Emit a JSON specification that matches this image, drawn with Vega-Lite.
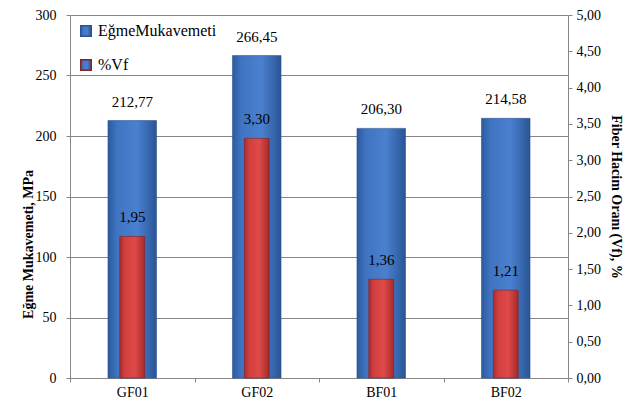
{
  "$schema": "https://vega.github.io/schema/vega-lite/v6.json",
  "width": 498,
  "height": 363,
  "autosize": "none",
  "padding": {"left": 70, "top": 15, "right": 72, "bottom": 28},
  "background": "white",
  "data": {
    "values": [
      {"Numune": "GF01", "Mukavemet": 212.77, "Vf": 1.95},
      {"Numune": "GF02", "Mukavemet": 266.45, "Vf": 3.30},
      {"Numune": "BF01", "Mukavemet": 206.30, "Vf": 1.36},
      {"Numune": "BF02", "Mukavemet": 214.58, "Vf": 1.21}
    ]
  },
  "encoding": {
    "x": {
      "field": "Numune",
      "type": "nominal",
      "sort": null,
      "scale": {"paddingInner": 0, "paddingOuter": 0},
      "axis": {"title": null, "labelAngle": 0, "labelPadding": 3, "tickBand": "extent", "grid": false}
    }
  },
  "layer": [
    {
      "encoding": {
        "y": {
          "field": "Mukavemet",
          "type": "quantitative",
          "scale": {"domain": [0, 300]},
          "axis": {
            "title": "Eğme Mukavemeti, MPa",
            "orient": "left",
            "values": [0, 50, 100, 150, 200, 250, 300],
            "format": "d",
            "grid": true,
            "labelPadding": 10,
            "titlePadding": 0,
            "titleY": 229
          }
        }
      },
      "layer": [
        {
          "mark": {
            "type": "bar",
            "width": {"band": 0.39},
            "strokeWidth": 0.6,
            "fill": {"gradient": "linear", "x1": 0, "x2": 1, "y1": 0, "y2": 0,
              "stops": [{"offset": 0, "color": "#2c5a9c"}, {"offset": 0.18, "color": "#3f74c2"}, {"offset": 0.6, "color": "#4a80cf"}, {"offset": 1, "color": "#2a5595"}]}
          },
          "encoding": {
            "stroke": {
              "datum": "EğmeMukavemeti",
              "type": "nominal",
              "scale": {"domain": ["EğmeMukavemeti", "%Vf"], "range": ["#2a5590", "#8a2020"]},
              "legend": {
                "title": null,
                "encode": {
                  "symbols": {
                    "update": {
                      "fill": {"signal": "datum.value === '%Vf' ? '#d23f3f' : '#3f74c2'"},
                      "strokeWidth": {"value": 0.6}
                    }
                  }
                }
              }
            }
          }
        },
        {
          "mark": {"type": "text", "baseline": "bottom", "dy": -11, "font": "Liberation Serif, Times New Roman, serif", "fontSize": 15, "color": "black"},
          "encoding": {"text": {"field": "Mukavemet", "type": "quantitative", "format": ".2f"}}
        }
      ]
    },
    {
      "encoding": {
        "y": {
          "field": "Vf",
          "type": "quantitative",
          "scale": {"domain": [0, 5]},
          "axis": {
            "title": "Fiber Hacim Oranı (Vf), %",
            "orient": "right",
            "values": [0, 0.5, 1, 1.5, 2, 2.5, 3, 3.5, 4, 4.5, 5],
            "format": ".2f",
            "grid": false,
            "labelPadding": 4,
            "titlePadding": 8
          }
        }
      },
      "layer": [
        {
          "mark": {
            "type": "bar",
            "width": {"band": 0.2},
            "strokeWidth": 0.6,
            "fill": {"gradient": "linear", "x1": 0, "x2": 1, "y1": 0, "y2": 0,
              "stops": [{"offset": 0, "color": "#a82c2c"}, {"offset": 0.2, "color": "#d23f3f"}, {"offset": 0.6, "color": "#de4a48"}, {"offset": 1, "color": "#a52a2a"}]}
          },
          "encoding": {"stroke": {"datum": "%Vf", "type": "nominal"}}
        },
        {
          "mark": {"type": "text", "baseline": "bottom", "dy": -11, "font": "Liberation Serif, Times New Roman, serif", "fontSize": 15, "color": "black"},
          "encoding": {"text": {"field": "Vf", "type": "quantitative", "format": ".2f"}}
        }
      ]
    }
  ],
  "resolve": {"scale": {"y": "independent"}},
  "config": {
    "locale": {
      "number": {"decimal": ",", "thousands": ".", "grouping": [3], "currency": ["", ""]}
    },
    "view": {"stroke": null},
    "axis": {
      "labelFont": "Liberation Serif, Times New Roman, serif",
      "labelFontSize": 14,
      "labelColor": "black",
      "titleFont": "Liberation Serif, Times New Roman, serif",
      "titleFontSize": 14,
      "titleFontWeight": "bold",
      "titleColor": "black",
      "domainColor": "#868686",
      "tickColor": "#868686",
      "tickSize": 4,
      "gridColor": "#868686",
      "gridWidth": 1
    },
    "legend": {
      "orient": "top-left",
      "offset": 8,
      "labelFont": "Liberation Serif, Times New Roman, serif",
      "labelFontSize": 16,
      "labelColor": "black",
      "labelOffset": 4,
      "symbolType": "square",
      "symbolSize": 110,
      "rowPadding": 16,
      "padding": 0
    }
  }
}
